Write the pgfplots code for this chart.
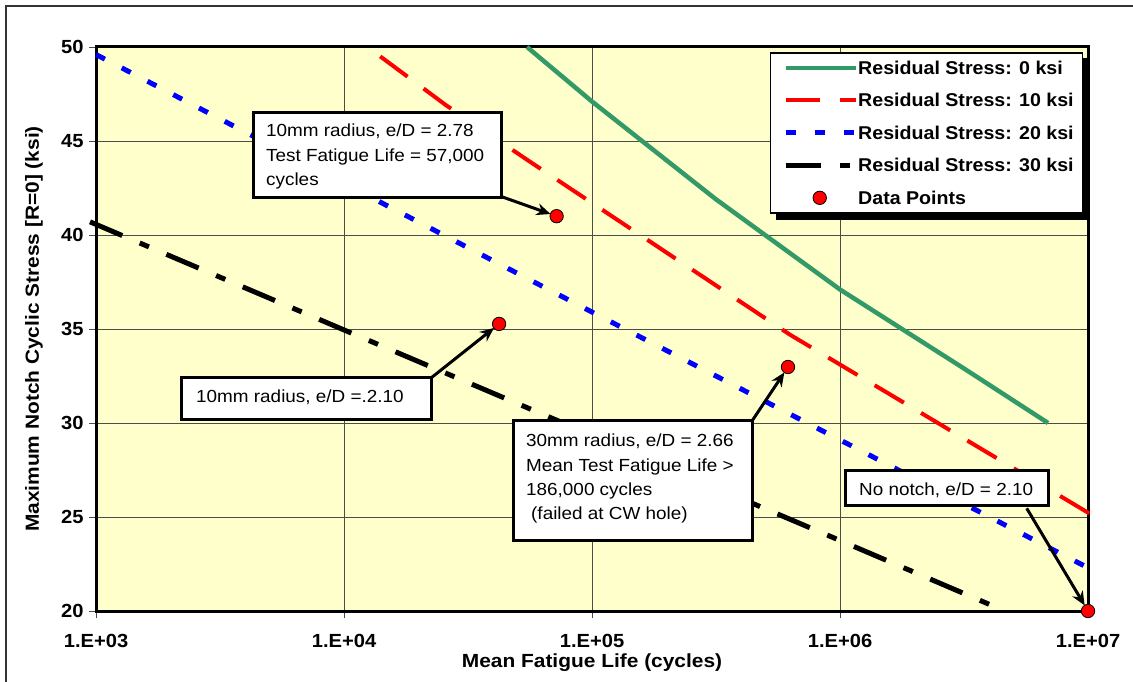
\documentclass[border=0pt]{standalone}
\usepackage{fontspec}
\setmainfont{Liberation Sans}
\newfontfamily\lblfont[FakeStretch=1.06]{Liberation Sans}
\newfontfamily\titlefont[FakeStretch=1.1]{Liberation Sans}
\newfontfamily\boxfont[FakeStretch=1.08]{Liberation Sans}
\usepackage{pgfplots}
\pgfplotsset{compat=1.18}
\usetikzlibrary{arrows.meta}
\definecolor{seagreen}{RGB}{51,153,102}
\definecolor{bgyellow}{RGB}{255,255,204}
\newcommand{\ls}{\rule[-4pt]{0pt}{18pt}}
\pgfplotsset{
  linelegend/.style={legend image code/.code={\path[draw=none] (0pt,0pt) -- (85pt,0pt); \draw[##1] (15pt,0pt) -- (85pt,0pt);}},
  dotlegend/.style={legend image code/.code={\path[draw=none] (0pt,0pt) -- (85pt,0pt); \draw[##1] plot coordinates {(49pt,0pt)};}},
}
\begin{document}
\begin{tikzpicture}[x=1pt,y=1pt]
\useasboundingbox (0,0) rectangle (1133,681);
\draw[line width=1.5pt, black!80] (6,-5) -- (6,675) -- (1140,675);
\begin{axis}[
  at={(96pt,70pt)}, anchor=south west, scale only axis,
  width=992pt, height=564pt,
  xmode=log, xmin=1e3, xmax=1e7, ymin=20, ymax=50,
  clip=false,
  axis background/.style={fill=bgyellow},
  axis line style={line width=3pt},
  xtick={1e3,1e4,1e5,1e6,1e7},
  xticklabels={1.E+03,1.E+04,1.E+05,1.E+06,1.E+07},
  ytick={20,25,30,35,40,45,50},
  yticklabels={20,25,30,35,40,45,50},
  xminorticks=false, yminorticks=false,
  grid=major, major grid style={line width=0.8pt, draw=black!70},
  tick align=outside, major tick length=7pt,
  tick style={line width=0.8pt, black!70},
  xtick pos=bottom, ytick pos=left,
  ticklabel style={font=\lblfont\bfseries\fontsize{19}{21}\selectfont, inner sep=0pt},
  xticklabel style={yshift=-15.7pt},
  yticklabel style={xshift=-5.3pt},
  every axis x label/.style={at={(axis description cs:0.5,-0.0922)}, anchor=center},
  every axis y label/.style={at={(axis description cs:-0.0625,0.5)}, anchor=center, rotate=90},
  label style={font=\titlefont\bfseries\fontsize{19}{21}\selectfont, inner sep=0pt},
  xlabel={Mean Fatigue Life (cycles)},
  ylabel={Maximum Notch Cyclic Stress [R=0] (ksi)},
  legend style={name=leg, at={(axis description cs:0.6794,0.9911)}, anchor=north west,
    draw=black, line width=1.5pt, fill=white,
    font=\lblfont\bfseries\fontsize{18.5}{20}\selectfont,
    inner xsep=0pt, inner ysep=7.3pt, row sep=17pt,
    nodes={inner sep=0pt}},
  legend cell align=left,
  linelegend,
]
\addplot[seagreen, line width=4.5pt] coordinates {
  (5.47e4,50.0) (1e5,47.1) (3.16e5,41.9) (1e6,37.1) (3.16e6,32.9) (6.9e6,30.0)};
\addlegendentry{\ls Residual Stress: 0 ksi}
\addplot[red, line width=4pt, dash pattern=on 34pt off 20pt] coordinates {
  (1.40e4,49.5) (2.58e4,46.9) (5.62e4,43.9) (6.28e5,34.7) (1.07e7,25.0)};
\addlegendentry{\ls Residual Stress: 10 ksi\hspace*{9pt}}
\addplot[blue, line width=5pt, dash pattern=on 10pt off 19pt] coordinates {
  (1e3,49.6) (1e4,42.75) (1e5,35.9) (1e6,29.1) (1e7,22.3)};
\addlegendentry{\ls Residual Stress: 20 ksi}
\addplot[black, line width=5pt, dash pattern=on 35pt off 19pt on 10pt off 19pt] coordinates {
  (946,40.7) (1e4,34.95) (1e5,29.35) (1e6,23.75) (4.62e6,20.0)};
\addlegendentry{\ls Residual Stress: 30 ksi}
\addplot[only marks, mark=*, mark size=6.7pt, mark options={fill=red, draw=black, line width=0.8pt}, dotlegend]
  coordinates {(7.2e4,41.0) (4.22e4,35.27) (6.17e5,32.98) (1e7,20.0)};
\addlegendentry{\ls Data Points}
\coordinate (p1) at (axis cs:7.2e4,41.0);
\coordinate (p2) at (axis cs:4.22e4,35.27);
\coordinate (p3) at (axis cs:6.17e5,32.98);
\coordinate (p4) at (axis cs:1e7,20.0);
\end{axis}
% legend shadow
\fill[black] ([yshift=-6pt]leg.north east) rectangle ([xshift=6pt,yshift=-6pt]leg.south east);
\fill[black] ([xshift=6pt]leg.south west) rectangle ([xshift=6pt,yshift=-6pt]leg.south east);
\tikzset{box/.style={draw=black, line width=3pt, fill=white},
  bt/.style={anchor=base west, inner sep=0pt, font=\boxfont\fontsize{17.5}{20}\selectfont},
  arr/.style={line width=3pt, -{Stealth[length=14pt,width=12pt]}, shorten >=6.5pt}}
% box 1
\draw[box] (253,483) rectangle (501,568);
\node[bt] at (266,544) {10mm radius, e/D = 2.78};
\node[bt] at (266,519.7) {Test Fatigue Life = 57,000};
\node[bt] at (266,495.4) {cycles};
\draw[arr] (501.7,484.3) -- (p1);
% box 2
\draw[box] (181,261) rectangle (431,303);
\node[bt] at (196,278) {10mm radius, e/D =.2.10};
\draw[arr] (431,303) -- (p2);
% box 3
\draw[box] (513,141) rectangle (752,260);
\node[bt] at (526,234) {30mm radius, e/D = 2.66};
\node[bt] at (526,209.7) {Mean Test Fatigue Life >};
\node[bt] at (526,185.4) {186,000 cycles};
\node[bt] at (526,161.1) {\hspace*{5pt}(failed at CW hole)};
\draw[arr] (752,260) -- (p3);
% box 4
\draw[box] (845,176) rectangle (1048,211);
\node[bt] at (859,185.4) {No notch, e/D = 2.10};
\draw[arr] (1026.7,172.7) -- (p4);
\end{tikzpicture}
\end{document}
